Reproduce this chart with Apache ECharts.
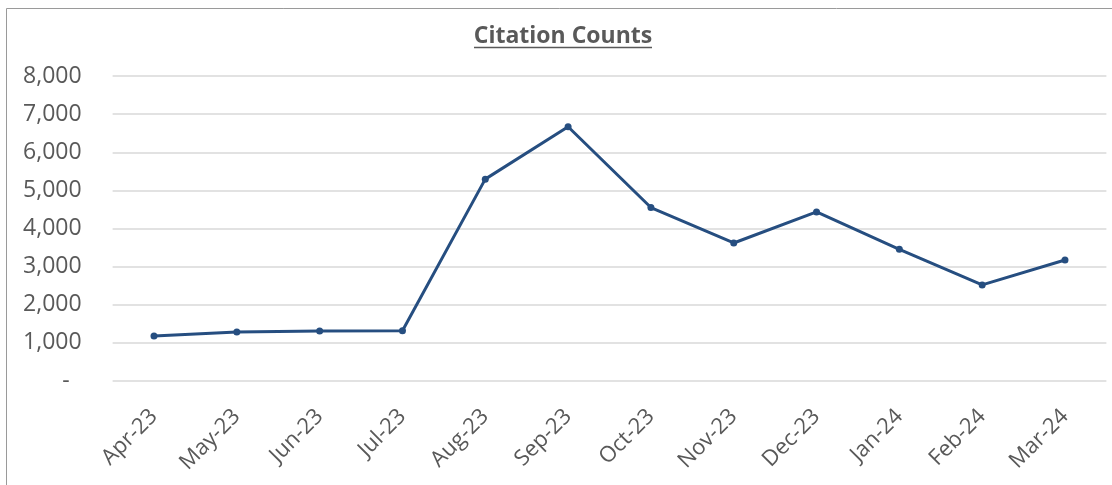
<!DOCTYPE html>
<html>
<head>
<meta charset="utf-8">
<script src="https://cdn.jsdelivr.net/npm/echarts@6/dist/echarts.min.js"></script>
<style>
html,body{margin:0;padding:0;background:#fff;}
#chart{width:1112px;height:485px;}
</style>
</head>
<body>
<div id="chart"></div>
<script>
var titleText = 'Citation Counts';
var categories = ['Apr-23','May-23','Jun-23','Jul-23','Aug-23','Sep-23','Oct-23','Nov-23','Dec-23','Jan-24','Feb-24','Mar-24'];
var citations = [1180, 1285, 1310, 1320, 5295, 6670, 4550, 3620, 4435, 3455, 2520, 3175];
var yTicks = [0, 1000, 2000, 3000, 4000, 5000, 6000, 7000, 8000];

var chart = echarts.init(document.getElementById('chart'), null, {renderer:'canvas'});
var font = '"Open Sans", "Noto Sans", sans-serif';
var option = {
  animation: false,
  backgroundColor: '#ffffff',
  graphic: [
    {type:'rect', shape:{x:6.5, y:8.5, width:1120, height:500}, style:{fill:'none', stroke:'#9a9a9a', lineWidth:1}, silent:true, z:0},
    {type:'text', x:563, y:36, style:{text:titleText, fill:'#595959', font:'bold 23px ' + font, textAlign:'center', textVerticalAlign:'middle'}, z:10},
    {type:'line', shape:{x1:474, y1:47.5, x2:652, y2:47.5}, style:{stroke:'#595959', lineWidth:1.5}, z:10}
  ],
  grid: {left:112.6, right:5.6, top:76, bottom:104, containLabel:false},
  xAxis: {
    type:'category',
    data: categories,
    boundaryGap: true,
    axisLine:{show:false},
    axisTick:{show:false},
    axisLabel:{rotate:45, margin:32, color:'#595959', fontSize:22, fontFamily:font, interval:0}
  },
  yAxis: {
    type:'value',
    min: yTicks[0],
    max: yTicks[yTicks.length-1],
    interval: 1000,
    axisLine:{show:false},
    axisTick:{show:false},
    splitLine:{lineStyle:{color:'#d9d9d9', width:1.5}},
    axisLabel:{
      margin:31, color:'#595959', fontSize:23, fontFamily:font,
      formatter:function(v){ return v === 0 ? '-  ' : v.toLocaleString('en-US'); }
    }
  },
  series: [{
    type:'line',
    data: citations,
    symbol:'circle',
    symbolSize:7,
    lineStyle:{color:'#264e80', width:3},
    itemStyle:{color:'#264e80'}
  }]
};
chart.setOption(option);
</script>
</body>
</html>
